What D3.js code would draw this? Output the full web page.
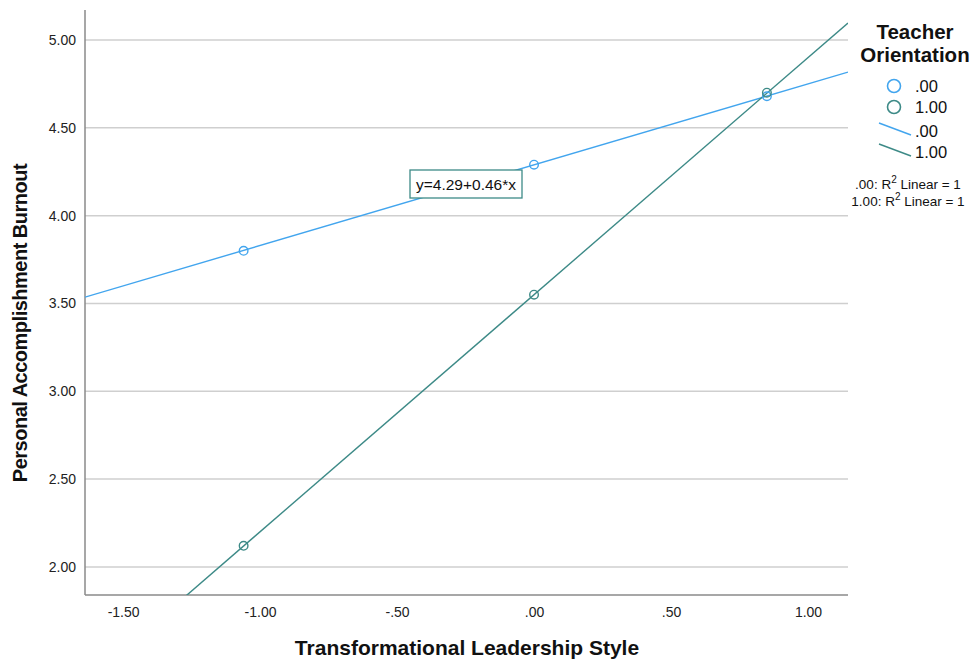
<!DOCTYPE html>
<html>
<head>
<meta charset="utf-8">
<script src="https://cdn.jsdelivr.net/npm/d3@7"></script>
<style>
  html, body { margin: 0; padding: 0; background: #fff; }
  svg { display: block; font-family: "Liberation Sans", Arial, sans-serif; }
</style>
</head>
<body>
<svg id="chart" width="973" height="661"></svg>
<script>
// Transformational leadership (x) vs personal accomplishment burnout (y), by teacher orientation
const xValues = [-1.06, 0.00, 0.85];
const groupLabels = [".00", "1.00"];
const group0Values = [3.80, 4.29, 4.68];
const group1Values = [2.12, 3.55, 4.70];
// Linear fit coefficients: [intercept, slope]
const fit0 = [4.29, 0.46];
const fit1 = [3.55, 1.35];
const xTicks = [-1.5, -1.0, -0.5, 0.0, 0.5, 1.0];
const yTicks = [2.0, 2.5, 3.0, 3.5, 4.0, 4.5, 5.0];
const r2Labels = [".00: R\u00B2 Linear = 1", "1.00: R\u00B2 Linear = 1"];

const colors = ["#42a5ee", "#3d8a87"];

const svg = d3.select("#chart");
const plotLeft = 85, plotRight = 848, plotTop = 10, plotBottom = 595;

const x = d3.scaleLinear().domain([-1.639, 1.146]).range([plotLeft, plotRight]);
const y = d3.scaleLinear().domain([1.84, 5.171]).range([plotBottom, plotTop]);

// SPSS-style number format: plain hyphen, no leading zero
const fmt = v => {
  const s = v.toFixed(2);
  return s.replace(/^(-?)0\./, "$1.");
};

// Horizontal gridlines
svg.append("g")
  .selectAll("line")
  .data(yTicks)
  .join("line")
  .attr("x1", plotLeft).attr("x2", plotRight)
  .attr("y1", d => y(d)).attr("y2", d => y(d))
  .attr("stroke", "#cfcfcf").attr("stroke-width", 1.5);

// Axes
const yAxis = svg.append("g")
  .attr("transform", `translate(${plotLeft},0)`)
  .call(d3.axisLeft(y).tickValues(yTicks).tickFormat(fmt).tickSize(0).tickPadding(9));
const xAxis = svg.append("g")
  .attr("transform", `translate(0,${plotBottom})`)
  .call(d3.axisBottom(x).tickValues(xTicks).tickFormat(fmt).tickSize(0).tickPadding(12));
[xAxis, yAxis].forEach(a => {
  a.select(".domain").attr("stroke", "#8a8a8a").attr("stroke-width", 1.5);
  a.selectAll("text").attr("font-size", 14).attr("fill", "#222")
    .attr("font-family", "'Liberation Sans', Arial, sans-serif");
});
xAxis.select(".domain").attr("d", `M${plotLeft},0H${plotRight}`);
yAxis.select(".domain").attr("d", `M0,${plotTop}V${plotBottom}`);

// Clip fit lines to the plot area
svg.append("clipPath").attr("id", "plot-clip")
  .append("rect").attr("x", plotLeft).attr("y", plotTop)
  .attr("width", plotRight - plotLeft).attr("height", plotBottom - plotTop);

const fits = [fit0, fit1];
const plot = svg.append("g").attr("clip-path", "url(#plot-clip)");
fits.forEach((f, i) => {
  const xs = x.domain();
  plot.append("line")
    .attr("x1", x(xs[0])).attr("y1", y(f[0] + f[1] * xs[0]))
    .attr("x2", x(xs[1])).attr("y2", y(f[0] + f[1] * xs[1]))
    .attr("stroke", colors[i]).attr("stroke-width", 1.4);
});

// Observed points
[group0Values, group1Values].forEach((vals, i) => {
  svg.append("g")
    .selectAll("circle")
    .data(vals)
    .join("circle")
    .attr("cx", (d, j) => x(xValues[j]))
    .attr("cy", d => y(d))
    .attr("r", 4.3)
    .attr("fill", "none")
    .attr("stroke", colors[i]).attr("stroke-width", 1.4);
});

// Equation label for the first fit line
const eqText = `y=${fit0[0].toFixed(2)}+${fit0[1].toFixed(2)}*x`;
const eq = svg.append("g").attr("transform", "translate(410,170)");
eq.append("rect").attr("width", 112).attr("height", 28)
  .attr("fill", "#fff").attr("stroke", "#3d8a87").attr("stroke-width", 1.3);
eq.append("text").attr("x", 56).attr("y", 20).attr("text-anchor", "middle")
  .attr("font-size", 15.5).attr("fill", "#111").text(eqText);

// Axis titles
svg.append("text")
  .attr("x", 467).attr("y", 655).attr("text-anchor", "middle")
  .attr("font-size", 21).attr("font-weight", "bold").attr("fill", "#111")
  .text("Transformational Leadership Style");
svg.append("text")
  .attr("transform", "translate(27,323) rotate(-90)")
  .attr("text-anchor", "middle")
  .attr("font-size", 20).attr("font-weight", "bold").attr("fill", "#111")
  .attr("letter-spacing", -0.5)
  .text("Personal Accomplishment Burnout");

// Legend
const lg = svg.append("g");
lg.append("text").attr("x", 915).attr("y", 39).attr("text-anchor", "middle")
  .attr("font-size", 20.5).attr("font-weight", "bold").attr("fill", "#111").text("Teacher");
lg.append("text").attr("x", 915).attr("y", 62).attr("text-anchor", "middle")
  .attr("font-size", 20.5).attr("font-weight", "bold").attr("fill", "#111").text("Orientation");

groupLabels.forEach((lab, i) => {
  const cy = 86 + i * 21;
  lg.append("circle").attr("cx", 894).attr("cy", cy).attr("r", 6.5)
    .attr("fill", "none").attr("stroke", colors[i]).attr("stroke-width", 1.6);
  lg.append("text").attr("x", 915).attr("y", cy + 6).attr("font-size", 16.5)
    .attr("fill", "#111").text(lab);
});
groupLabels.forEach((lab, i) => {
  const ly = 123 + i * 21;
  lg.append("line").attr("x1", 879).attr("y1", ly).attr("x2", 911).attr("y2", ly + 12)
    .attr("stroke", colors[i]).attr("stroke-width", 1.4);
  lg.append("text").attr("x", 915).attr("y", ly + 14).attr("font-size", 16.5)
    .attr("fill", "#111").text(lab);
});
r2Labels.forEach((t, i) => {
  const parts = t.split("\u00B2");
  const txt = lg.append("text").attr("x", 908).attr("y", 189 + i * 17)
    .attr("text-anchor", "middle").attr("font-size", 13.5).attr("fill", "#111");
  txt.append("tspan").text(parts[0]);
  txt.append("tspan").attr("dy", -6).attr("font-size", 10).text("2");
  txt.append("tspan").attr("dy", 6).text(parts[1]);
});
</script>
</body>
</html>
